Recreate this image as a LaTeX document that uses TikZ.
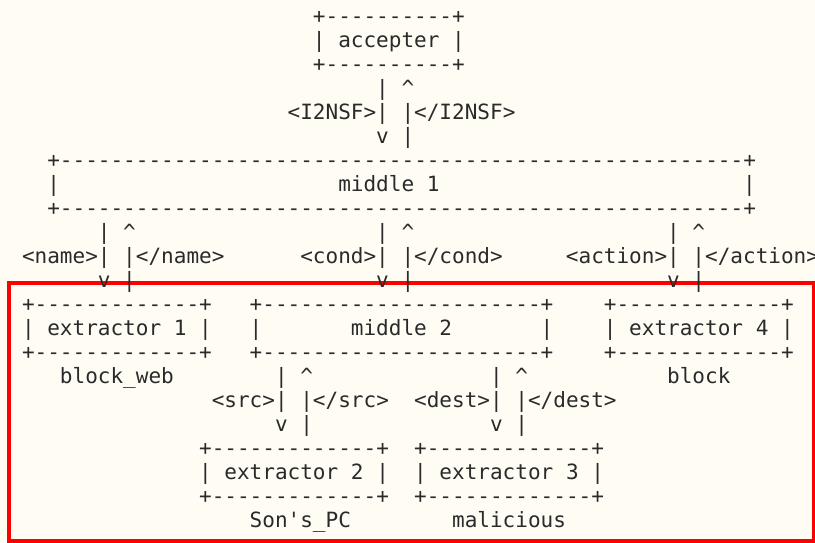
\documentclass[tikz,border=0pt]{standalone}
\usepackage{fontspec}
\setmonofont{DejaVu Sans Mono}
\usepackage{tikz}
\usetikzlibrary{positioning}

\definecolor{paper}{HTML}{FFFCF4}
\definecolor{ink}{HTML}{2A2A2A}
\definecolor{frame}{HTML}{FF0000}

% one "+----+" line of n dashes
\newcommand{\asciiedge}[1]{+\foreach\k in {1,...,#1}{-}+}

\begin{document}
\begin{tikzpicture}[x=12.65pt, y=-24pt,
    ascii/.style={font=\ttfamily\fontsize{21.02pt}{24pt}\selectfont, text=ink,
      anchor=west, inner sep=0pt, outer sep=0pt, text height=12pt, text depth=0pt}]
    \fill[paper] (0pt,0pt) rectangle (815pt,-542pt);
    \path[use as bounding box] (0pt,0pt) rectangle (815pt,-542pt);
    \draw[frame, line width=4pt] (9pt,-283pt) rectangle (814pt,-541pt);

  \begin{scope}[shift={(22pt,-17pt)}]
    % accepter
    \node[ascii] (acctop) at (23,0) {\asciiedge{10}};
    \node[ascii] (accepter) at (23,1) {| accepter |};
    \node[ascii] (accbot) at (23,2) {\asciiedge{10}};
    \node[ascii] (i2up) at (28,3) {| \textasciicircum};
    \node[ascii] (i2nsf) at (21,4) {<I2NSF>| |</I2NSF>};
    \node[ascii] (i2dn) at (28,5) {v |};
    % middle 1
    \node[ascii] (mid1top) at (2,6) {\asciiedge{54}};
    \node[ascii] (mid1l) at (2,7) {|};
    \node[ascii] (middle1) at (25,7) {middle 1};
    \node[ascii] (mid1r) at (57,7) {|};
    \node[ascii] (mid1bot) at (2,8) {\asciiedge{54}};
    \node[ascii] (nameup) at (6,9) {| \textasciicircum};
    \node[ascii] (condup) at (28,9) {| \textasciicircum};
    \node[ascii] (actup) at (51,9) {| \textasciicircum};
    \node[ascii] (name) at (0,10) {<name>| |</name>};
    \node[ascii] (cond) at (22,10) {<cond>| |</cond>};
    \node[ascii] (action) at (43,10) {<action>| |</action>};
    \node[ascii] (namedn) at (6,11) {v |};
    \node[ascii] (conddn) at (28,11) {v |};
    \node[ascii] (actdn) at (51,11) {v |};
    % extractor 1, middle 2, extractor 4
    \node[ascii] (ext1top) at (0,12) {\asciiedge{13}};
    \node[ascii] (mid2top) at (18,12) {\asciiedge{22}};
    \node[ascii] (ext4top) at (46,12) {\asciiedge{13}};
    \node[ascii] (ext1) at (0,13) {| extractor 1 |};
    \node[ascii] (mid2l) at (18,13) {|};
    \node[ascii] (middle2) at (26,13) {middle 2};
    \node[ascii] (mid2r) at (41,13) {|};
    \node[ascii] (ext4) at (46,13) {| extractor 4 |};
    \node[ascii] (ext1bot) at (0,14) {\asciiedge{13}};
    \node[ascii] (mid2bot) at (18,14) {\asciiedge{22}};
    \node[ascii] (ext4bot) at (46,14) {\asciiedge{13}};
    \node[ascii] (blockweb) at (3,15) {block\_web};
    \node[ascii] (srcup) at (20,15) {| \textasciicircum};
    \node[ascii] (destup) at (37,15) {| \textasciicircum};
    \node[ascii] (block) at (51,15) {block};
    \node[ascii] (src) at (15,16) {<src>| |</src>};
    \node[ascii] (dest) at (31,16) {<dest>| |</dest>};
    \node[ascii] (srcdn) at (20,17) {v |};
    \node[ascii] (destdn) at (37,17) {v |};
    % extractor 2, extractor 3
    \node[ascii] (ext2top) at (14,18) {\asciiedge{13}};
    \node[ascii] (ext3top) at (31,18) {\asciiedge{13}};
    \node[ascii] (ext2) at (14,19) {| extractor 2 |};
    \node[ascii] (ext3) at (31,19) {| extractor 3 |};
    \node[ascii] (ext2bot) at (14,20) {\asciiedge{13}};
    \node[ascii] (ext3bot) at (31,20) {\asciiedge{13}};
    \node[ascii] (sonspc) at (18,21) {Son's\_PC};
    \node[ascii] (malicious) at (34,21) {malicious};
  \end{scope}
\end{tikzpicture}
\end{document}
